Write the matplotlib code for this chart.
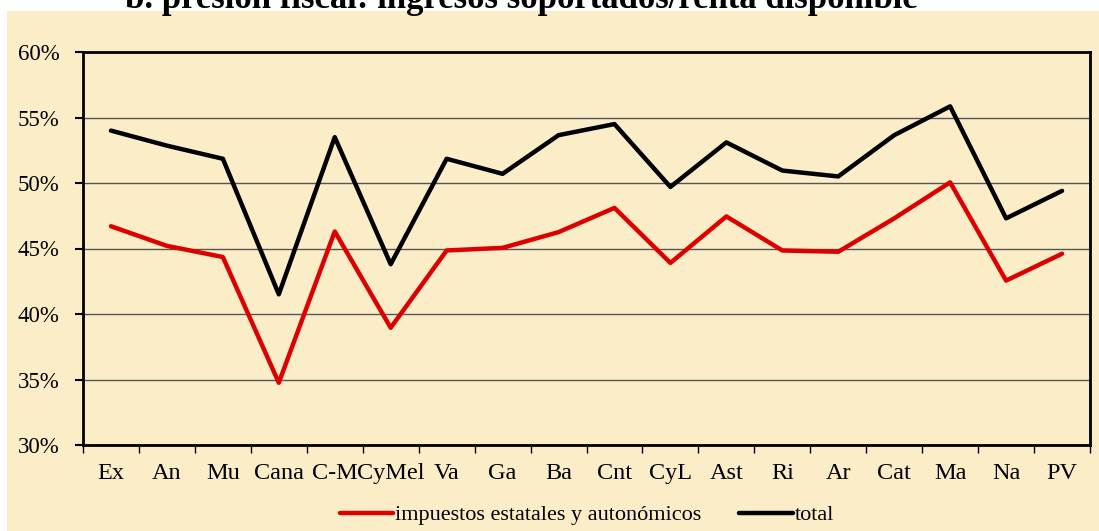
import matplotlib
matplotlib.use("Agg")
import matplotlib.pyplot as plt
from matplotlib.patches import Rectangle
from matplotlib.ticker import FuncFormatter

# Datos (porcentaje)
regiones = ["Ex", "An", "Mu", "Cana", "C-M", "CyMel", "Va", "Ga", "Ba",
            "Cnt", "CyL", "Ast", "Ri", "Ar", "Cat", "Ma", "Na", "PV"]
impuestos = [46.7, 45.2, 44.35, 34.75, 46.3, 38.95, 44.85, 45.05, 46.25,
             48.1, 43.9, 47.45, 44.85, 44.75, 47.3, 50.05, 42.55, 44.6]
total = [54.0, 52.85, 51.85, 41.5, 53.5, 43.8, 51.85, 50.7, 53.65,
         54.5, 49.7, 53.1, 50.95, 50.5, 53.65, 55.85, 47.3, 49.4]

fondo = "#FCEDC9"
W, H = 1099, 531

fig = plt.figure(figsize=(W / 100, H / 100), dpi=100)
fig.patch.set_facecolor("white")
fig.add_artist(Rectangle((7 / W, 0), 1 - 7 / W, 1 - 11 / H,
                         transform=fig.transFigure, facecolor=fondo,
                         edgecolor="none", zorder=-5))

ax = fig.add_axes([83 / W, 1 - 445 / H, (1090 - 83) / W, (445 - 52) / H])
ax.set_facecolor(fondo)

x = range(len(regiones))
ax.plot(x, impuestos, color="#DD0000", lw=3.2, label="impuestos estatales y autonómicos",
        solid_capstyle="round", zorder=3)
ax.plot(x, total, color="black", lw=3.2, label="total", solid_capstyle="round", zorder=3)

ax.set_xlim(-0.5, len(regiones) - 0.5)
ax.set_ylim(30, 60)
ax.set_yticks(range(30, 61, 5))
ax.yaxis.set_major_formatter(FuncFormatter(lambda v, p: f"{v:.0f}%"))
ax.set_xticks(list(x))
ax.set_xticklabels(regiones)
ax.set_xticks([i - 0.5 for i in range(len(regiones) + 1)], minor=True)
ax.tick_params(axis="x", which="major", length=0, pad=13)
ax.tick_params(axis="x", which="minor", length=6, width=1, direction="out")
ax.tick_params(axis="y", length=6, width=1.5, direction="out", pad=11)
for lab in ax.get_xticklabels():
    lab.set_fontfamily("Liberation Serif")
    lab.set_fontsize(17.5)
for lab in ax.get_yticklabels():
    lab.set_fontfamily("Liberation Serif")
    lab.set_fontsize(16.5)

ax.grid(axis="y", color="#555555", lw=1)
ax.set_axisbelow(True)
for s in ax.spines.values():
    s.set_linewidth(2)

fig.text(521 / W, 1 - 8 / H, "b. presión fiscal: ingresos soportados/renta disponible",
         ha="center", va="baseline", fontsize=25, fontweight="bold",
         fontfamily="Liberation Serif")

fig.legend(loc="center", bbox_to_anchor=(587 / W, 1 - 515 / H), ncol=2,
           frameon=False, prop={"family": "Liberation Serif", "size": 16},
           handlelength=2.4, handletextpad=0.1, columnspacing=1.7)

fig.savefig("out.png", dpi=100, facecolor=fig.get_facecolor())
